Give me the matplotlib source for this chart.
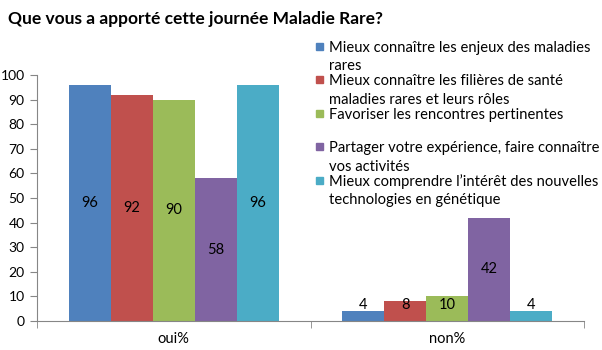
import matplotlib.pyplot as plt
from matplotlib.patches import Rectangle
import numpy as np

# Data
categories = ['oui%', 'non%']
series = [
    'Mieux connaître les enjeux des maladies\nrares',
    'Mieux connaître les filières de santé\nmaladies rares et leurs rôles',
    'Favoriser les rencontres pertinentes',
    'Partager votre expérience, faire connaître\nvos activités',
    'Mieux comprendre l\u2019intérêt des nouvelles\ntechnologies en génétique',
]
oui = [96, 92, 90, 58, 96]
non = [4, 8, 10, 42, 4]
colors = ['#4F81BD', '#C0504D', '#9BBB59', '#8064A2', '#4BACC6']

plt.rcParams['font.family'] = ['Lato', 'DejaVu Sans']
axis_col = '#868686'

fig = plt.figure(figsize=(6.02, 3.5), dpi=100)
ax = fig.add_axes([37 / 602, 29 / 350, 547 / 602, 246 / 350])

x = np.arange(len(categories))
width = 42 / 273
values = np.array([oui, non]).T
for i, (vals, col) in enumerate(zip(values, colors)):
    pos = x + (i - 2) * width
    bars = ax.bar(pos, vals, width, color=col, zorder=2)
    for b, v in zip(bars, vals):
        # small bars: label kept inside the plot area, like Excel does
        ax.text(b.get_x() + b.get_width() / 2, max(v / 2, 6.5), str(v),
                ha='center', va='center', fontsize=10.5, color='black')

ax.set_xlim(-0.5, 1.5)
ax.set_ylim(0, 100)
ax.set_yticks(range(0, 101, 10))
ax.set_xticks(x)
ax.set_xticklabels(categories, fontsize=10.5)
ax.set_xticks([-0.5, 0.5, 1.5], minor=True)
ax.tick_params(axis='x', which='major', length=0, pad=8)
ax.tick_params(axis='x', which='minor', length=5, color=axis_col)
ax.tick_params(axis='y', length=5, color=axis_col, labelsize=10, pad=4)
for s in ['top', 'right']:
    ax.spines[s].set_visible(False)
for s in ['left', 'bottom']:
    ax.spines[s].set_color(axis_col)

fig.text(8 / 602, 1 - 24 / 350, 'Que vous a apporté cette journée Maladie Rare?',
         fontsize=12.5, fontweight='bold', va='baseline', ha='left')

# Legend drawn as text with colored squares, one text per line
for i, (lab, col) in enumerate(zip(series, colors)):
    yy = 52 + 33.4 * i
    fig.patches.append(Rectangle((316 / 602, 1 - (yy - 2) / 350), 7 / 602, 7 / 350,
                                 transform=fig.transFigure, color=col))
    for j, line in enumerate(lab.split('\n')):
        fig.text(329 / 602, 1 - (yy + 18.5 * j) / 350, line, fontsize=10.6,
                 va='baseline', ha='left')

fig.savefig('out.png', dpi=100)
